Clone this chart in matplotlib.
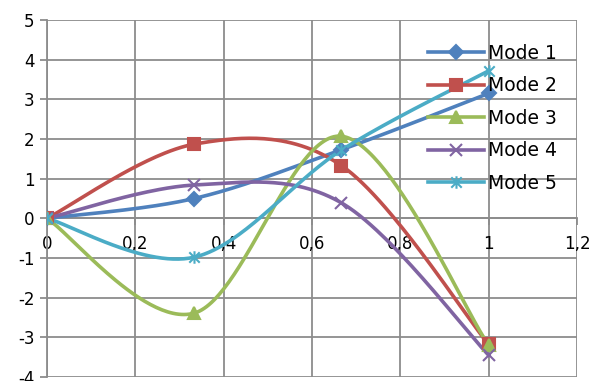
import numpy as np
import matplotlib
matplotlib.use("Agg")
import matplotlib.pyplot as plt
from matplotlib.path import Path

plt.rcParams['font.family'] = ['DejaVu Sans']
plt.rcParams['axes.unicode_minus'] = False

x_vals = [0, 1/3, 2/3, 1]
series_names = ["Mode 1", "Mode 2", "Mode 3", "Mode 4", "Mode 5"]
mode1 = [0, 0.50, 1.73, 3.15]
mode2 = [0, 1.87, 1.33, -3.18]
mode3 = [0, -2.39, 2.07, -3.20]
mode4 = [0, 0.84, 0.39, -3.45]
mode5 = [0, -0.98, 1.72, 3.72]
x_tick_labels = ["0", "0,2", "0,4", "0,6", "0,8", "1", "1,2"]

colors = ["#4F81BD", "#C0504D", "#9BBB59", "#8064A2", "#4BACC6"]

# asterisk marker: an x with a vertical stroke
star_path = Path(
    [(-1, -1), (1, 1), (-1, 1), (1, -1), (0, -1.2), (0, 1.2)],
    [Path.MOVETO, Path.LINETO, Path.MOVETO, Path.LINETO, Path.MOVETO, Path.LINETO],
)
markers = ["D", "s", "^", "x", star_path]
msizes = [7, 9, 9, 8, 9]


def smooth(xs, ys, n=60):
    """Cardinal (Catmull-Rom) bezier smoothing through the points."""
    xs = np.asarray(xs, float)
    ys = np.asarray(ys, float)
    px = np.concatenate([[xs[0]], xs, [xs[-1]]])
    py = np.concatenate([[ys[0]], ys, [ys[-1]]])
    ox, oy = [], []
    t = np.linspace(0, 1, n)
    for i in range(1, len(px) - 2):
        p0 = np.array([px[i], py[i]])
        p3 = np.array([px[i + 1], py[i + 1]])
        c1 = p0 + (np.array([px[i + 1], py[i + 1]]) - np.array([px[i - 1], py[i - 1]])) / 6
        c2 = p3 - (np.array([px[i + 2], py[i + 2]]) - np.array([px[i], py[i]])) / 6
        b = ((1 - t) ** 3)[:, None] * p0 + (3 * (1 - t) ** 2 * t)[:, None] * c1 \
            + (3 * (1 - t) * t ** 2)[:, None] * c2 + (t ** 3)[:, None] * p3
        ox.extend(b[:, 0])
        oy.extend(b[:, 1])
    return np.array(ox), np.array(oy)


fig = plt.figure(figsize=(5.97, 3.81), dpi=100)
ax = fig.add_axes([0.0787, 0.0105, 0.8878, 0.937])

for name, ys, c, m, ms in zip(series_names, [mode1, mode2, mode3, mode4, mode5],
                              colors, markers, msizes):
    sx, sy = smooth(x_vals, ys)
    ax.plot(sx, sy, color=c, lw=2.6, zorder=3)
    ax.plot(x_vals, ys, linestyle="none", marker=m, markersize=ms, color=c,
            markeredgecolor=c, markeredgewidth=1.5, zorder=4)
    ax.plot([], [], color=c, lw=2.6, marker=m, markersize=ms,
            markeredgecolor=c, markeredgewidth=1.5, label=name)

ax.set_xlim(0, 1.2)
ax.set_ylim(-4, 5)
ax.set_xticks(np.arange(0, 1.21, 0.2))
ax.set_xticklabels(x_tick_labels)
ax.set_yticks(range(-4, 6))
ax.grid(True, color="#8C8C8C", lw=1.3)
ax.set_axisbelow(True)

for s in ["top", "right"]:
    ax.spines[s].set_visible(False)
ax.spines["left"].set_color("#8C8C8C")
ax.spines["left"].set_linewidth(1.3)
ax.spines["bottom"].set_position(("data", 0))
ax.spines["bottom"].set_color("#8C8C8C")
ax.spines["bottom"].set_linewidth(1.3)
ax.tick_params(axis="y", length=5, width=1.3, color="#8C8C8C", labelsize=12, pad=4)
ax.tick_params(axis="x", length=5, width=1.3, color="#8C8C8C", labelsize=12, pad=7)

leg = ax.legend(loc="upper right", bbox_to_anchor=(0.963, 0.933), frameon=False,
                fontsize=13.5, handlelength=2.95, handletextpad=0.25,
                labelspacing=0.72, borderaxespad=0.0, borderpad=0.0)

fig.savefig("out.png", dpi=100)
